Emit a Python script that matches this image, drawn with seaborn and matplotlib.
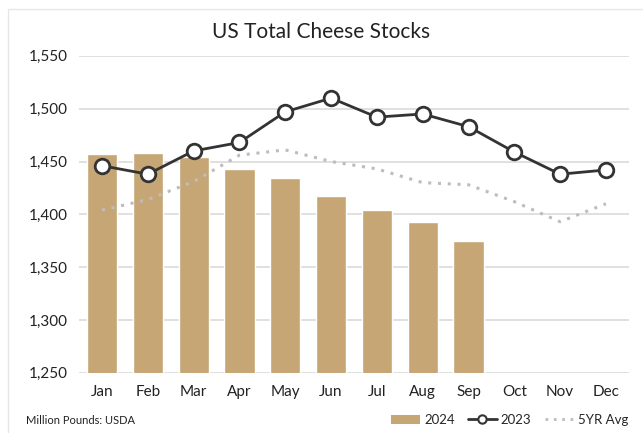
import numpy as np
import pandas as pd
import matplotlib
matplotlib.use('Agg')
import matplotlib.pyplot as plt
from matplotlib.lines import Line2D
from matplotlib.patches import Patch
import seaborn as sns

months = ['Jan', 'Feb', 'Mar', 'Apr', 'May', 'Jun', 'Jul', 'Aug', 'Sep', 'Oct', 'Nov', 'Dec']
stocks_2024 = [1457, 1458, 1454, 1443, 1434, 1417, 1404, 1393, 1375]
stocks_2023 = [1446, 1438, 1460, 1468, 1497, 1510, 1492, 1495, 1483, 1459, 1438, 1442]
avg_5yr = [1404, 1414, 1431, 1456, 1461, 1450, 1443, 1430, 1428, 1412, 1393, 1410]
yticks = [1250, 1300, 1350, 1400, 1450, 1500, 1550]

sns.set_style('white')
plt.rcParams['font.family'] = ['Lato', 'DejaVu Sans']

fig = plt.figure(figsize=(6.43, 4.33), dpi=100)
ax = fig.add_axes([0.123, 0.139, 0.855, 0.732])

bar_color = '#C6A674'
df24 = pd.DataFrame({'month': months[:len(stocks_2024)], 'stocks': stocks_2024})
sns.barplot(data=df24, x='month', y='stocks', order=months, color=bar_color,
            width=0.66, saturation=1, ax=ax, zorder=2)

pos = np.arange(len(months))
sns.lineplot(x=pos, y=avg_5yr, ax=ax, color='#BDBDBD', lw=2.2,
             linestyle=(0, (1, 2.2)), zorder=3)
ax.plot(pos, stocks_2023, color='#333333', lw=2, marker='o', markersize=10.5,
        markerfacecolor='white', markeredgecolor='#333333', markeredgewidth=2,
        zorder=4)

ax.set_ylim(1250, 1550)
ax.set_xlim(-0.5, len(months) - 0.5)
ax.set_yticks(yticks)
ax.set_yticklabels([f'{v:,}' for v in yticks])
ax.yaxis.grid(True, color='#DADADA', lw=1.2, zorder=0)
ax.set_axisbelow(True)
ax.tick_params(axis='both', length=0, labelsize=11, colors='#222222')
ax.tick_params(axis='x', pad=9)
ax.tick_params(axis='y', pad=8)
ax.set_xlabel('')
ax.set_ylabel('')
sns.despine(ax=ax, left=True, bottom=True)

fig.text(0.5, 0.926, 'US Total Cheese Stocks', ha='center', va='center',
         fontsize=15, color='#222222')
fig.text(0.04, 0.03, 'Million Pounds: USDA', ha='left', va='center',
         fontsize=8, color='#222222')

handles = [
    Patch(facecolor=bar_color, edgecolor='none', label='2024'),
    Line2D([0], [0], color='#333333', lw=2, marker='o', markersize=6,
           markerfacecolor='white', markeredgecolor='#333333', markeredgewidth=1.5,
           label='2023'),
    Line2D([0], [0], color='#BDBDBD', lw=2, linestyle=(0, (1, 2)), label='5YR Avg'),
]
fig.legend(handles=handles, loc='center right', bbox_to_anchor=(0.985, 0.03),
           ncol=3, frameon=False, fontsize=9.5, handlelength=2.2,
           handletextpad=0.3, columnspacing=1.0, borderaxespad=0)

border = plt.Rectangle((0.012, -0.01), 1.0, 0.99, transform=fig.transFigure,
                       fill=False, edgecolor='#E6E6E6', lw=1)
fig.patches.append(border)

fig.savefig('out.png', dpi=100)
